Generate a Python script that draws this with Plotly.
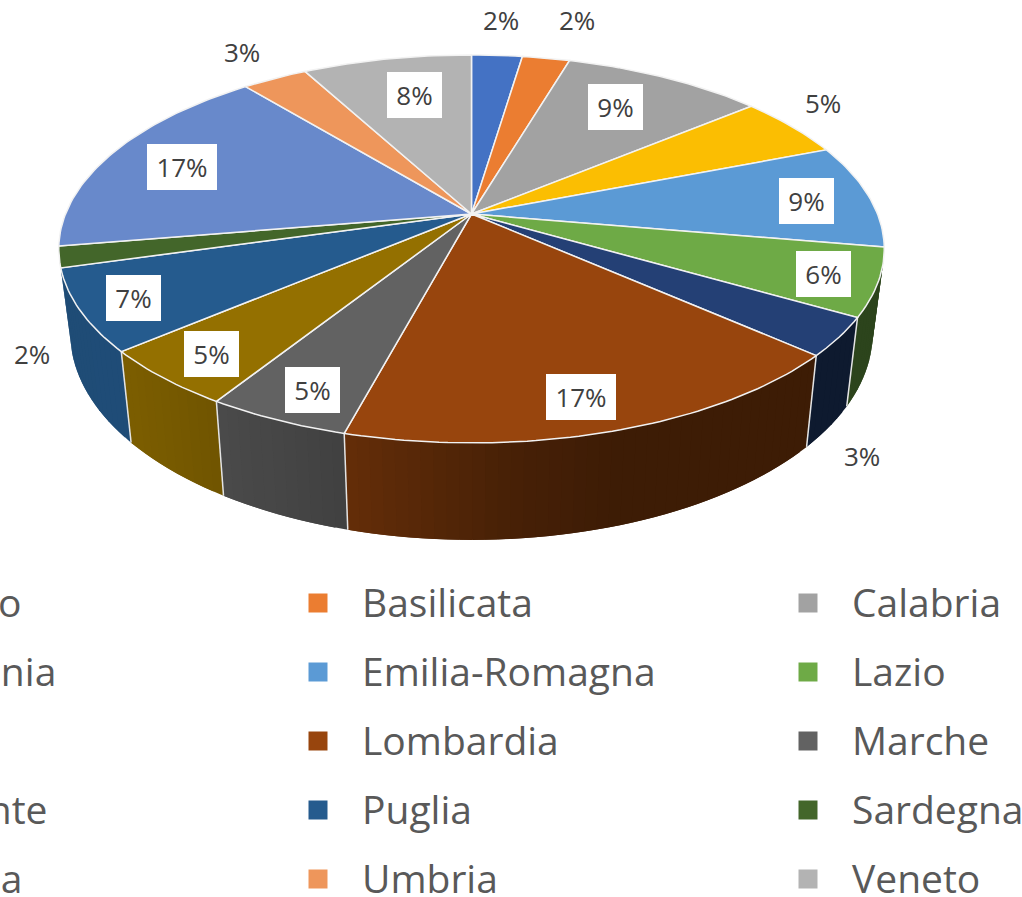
import numpy as np
import plotly.graph_objects as go

# ---------- data ----------
regions = ["Abruzzo", "Basilicata", "Calabria", "Campania", "Emilia-Romagna",
           "Lazio", "Liguria", "Lombardia", "Marche", "Piemonte",
           "Puglia", "Sardegna", "Toscana", "Umbria", "Veneto"]
shares = [2.36, 2.21, 9.38, 5.12, 8.66, 5.64, 3.19, 17.61, 4.77, 4.85,
          6.81, 1.76, 16.71, 3.05, 7.88]
percent_labels = ["2%", "2%", "9%", "5%", "9%", "6%", "3%", "17%", "5%", "5%",
                  "7%", "2%", "17%", "3%", "8%"]
colors = ["#4472C4", "#EB7D31", "#A2A2A2", "#FBBE02", "#5B9AD5",
          "#6EAA46", "#244075", "#98450D", "#626262", "#947000",
          "#255B8E", "#43662A", "#6889CB", "#EE965B", "#B3B3B3"]

# ---------- layout of the labels ----------
label_x = [501, 577, 615.5, 823, 806.5, 823.5, 862, 581, 312.5, 211.5, 133.5, 32, 182, 242, 414.5]
label_y = [20, 20, 107, 103, 200.5, 274, 456, 397, 390, 353.5, 297.5, 354, 167, 52, 94.5]
label_boxed = [False, False, True, False, True, True, False, True, True, True, True, False, True, False, True]

# ---------- projection of the tilted disc ----------
CX, CY = 471.5, 214.0
P, A, B = 0.18, 187.7, 406.0


def top(theta):
    u, v = np.sin(theta), -np.cos(theta)
    w = 1 - P * v
    return CX + B * u / w, CY + A * v / w


def bottom(x, y):
    return CX + 0.972 * (x - CX), 540 + 1.065 * (y - 443)


def shade(hex_color, factor):
    r, g, b = [int(hex_color[i:i + 2], 16) for i in (1, 3, 5)]
    return f"rgb({r * factor:.0f},{g * factor:.0f},{b * factor:.0f})"


edges = np.concatenate([[0], np.cumsum(shares)]) / np.sum(shares) * 2 * np.pi
fig = go.Figure()


def polygon(xs, ys, fill, line_color, line_width):
    fig.add_trace(go.Scatter(x=xs, y=ys, mode="lines", fill="toself", fillcolor=fill,
                             line=dict(color=line_color, width=line_width),
                             hoverinfo="skip", showlegend=False))


# side walls: only the slices that face the viewer; each strip runs under the next
wall_order = ["Lazio", "Liguria", "Lombardia", "Marche", "Piemonte", "Puglia"]
for name in wall_order:
    i = regions.index(name)
    n = max(2, int(np.degrees(edges[i + 1] - edges[i]) / 1.5))
    th = np.linspace(edges[i], edges[i + 1], n + 1)
    for k in range(n):
        end = th[min(k + 2, n)]
        arc = np.linspace(th[k], end, 4)
        x_up, y_up = top(arc)
        x_lo, y_lo = bottom(x_up, y_up)
        f = float(np.interp(x_up[:2].mean(),
                            [60, 120, 216, 345, 511, 620, 884],
                            [0.83, 0.84, 0.76, 0.66, 0.47, 0.40, 0.40]))
        col = shade(colors[i], f)
        polygon(np.concatenate([x_up, x_lo[::-1], x_up[:1]]),
                np.concatenate([y_up, y_lo[::-1], y_up[:1]]), col, col, 0)

# separators between the walls
for name in wall_order[:-1]:
    i = regions.index(name)
    xa, ya = top(edges[i + 1])
    xb, yb = bottom(xa, ya)
    fig.add_trace(go.Scatter(x=[xa, xb], y=[ya, yb], mode="lines",
                             line=dict(color="#E4E4E4", width=1.5),
                             hoverinfo="skip", showlegend=False))

# top faces
for i in range(len(regions)):
    th = np.linspace(edges[i], edges[i + 1], max(3, int(np.degrees(edges[i + 1] - edges[i]))))
    x, y = top(th)
    polygon(np.concatenate([[CX], x, [CX]]), np.concatenate([[CY], y, [CY]]),
            colors[i], "#F2F2F2", 1.5)

# legend, three columns, cut by the page on the left
col_marker_x = [-172, 318, 808]
col_text_x = [-127, 362, 852]
row_y = [603, 672, 741, 810, 879]
text_dy = 4
for i, name in enumerate(regions):
    c, r = i % 3, i // 3
    fig.add_trace(go.Scatter(x=[col_marker_x[c]], y=[row_y[r]], mode="markers",
                             marker=dict(symbol="square", size=19, color=colors[i],
                                         line=dict(width=0)),
                             hoverinfo="skip", showlegend=False))
    fig.add_trace(go.Scatter(x=[col_text_x[c]], y=[row_y[r] + text_dy], mode="text", text=[name],
                             textposition="middle right",
                             textfont=dict(family="Open Sans", size=39, color="#595959"),
                             hoverinfo="skip", showlegend=False))

# percentage labels
for i, text in enumerate(percent_labels):
    boxed = label_boxed[i]
    fig.add_annotation(x=label_x[i], y=label_y[i], xref="x", yref="y", text=text,
                       showarrow=False, xanchor="center", yanchor="middle",
                       font=dict(family="Open Sans", size=26, color="#404040"),
                       width=(70 if len(text) == 3 else 55) if boxed else None,
                       height=45.5 if boxed else None,
                       bgcolor="#FFFFFF" if boxed else None,
                       borderpad=0, borderwidth=0, align="center", valign="middle")

fig.update_layout(width=1022, height=897, margin=dict(l=0, r=0, t=0, b=0),
                  paper_bgcolor="white", plot_bgcolor="white", showlegend=False,
                  xaxis=dict(range=[0, 1022], visible=False, fixedrange=True),
                  yaxis=dict(range=[897, 0], visible=False, fixedrange=True))
fig.write_html("out.html", config={"displayModeBar": False},
               post_script="document.body.style.margin='0';document.documentElement.style.overflow='hidden';")
